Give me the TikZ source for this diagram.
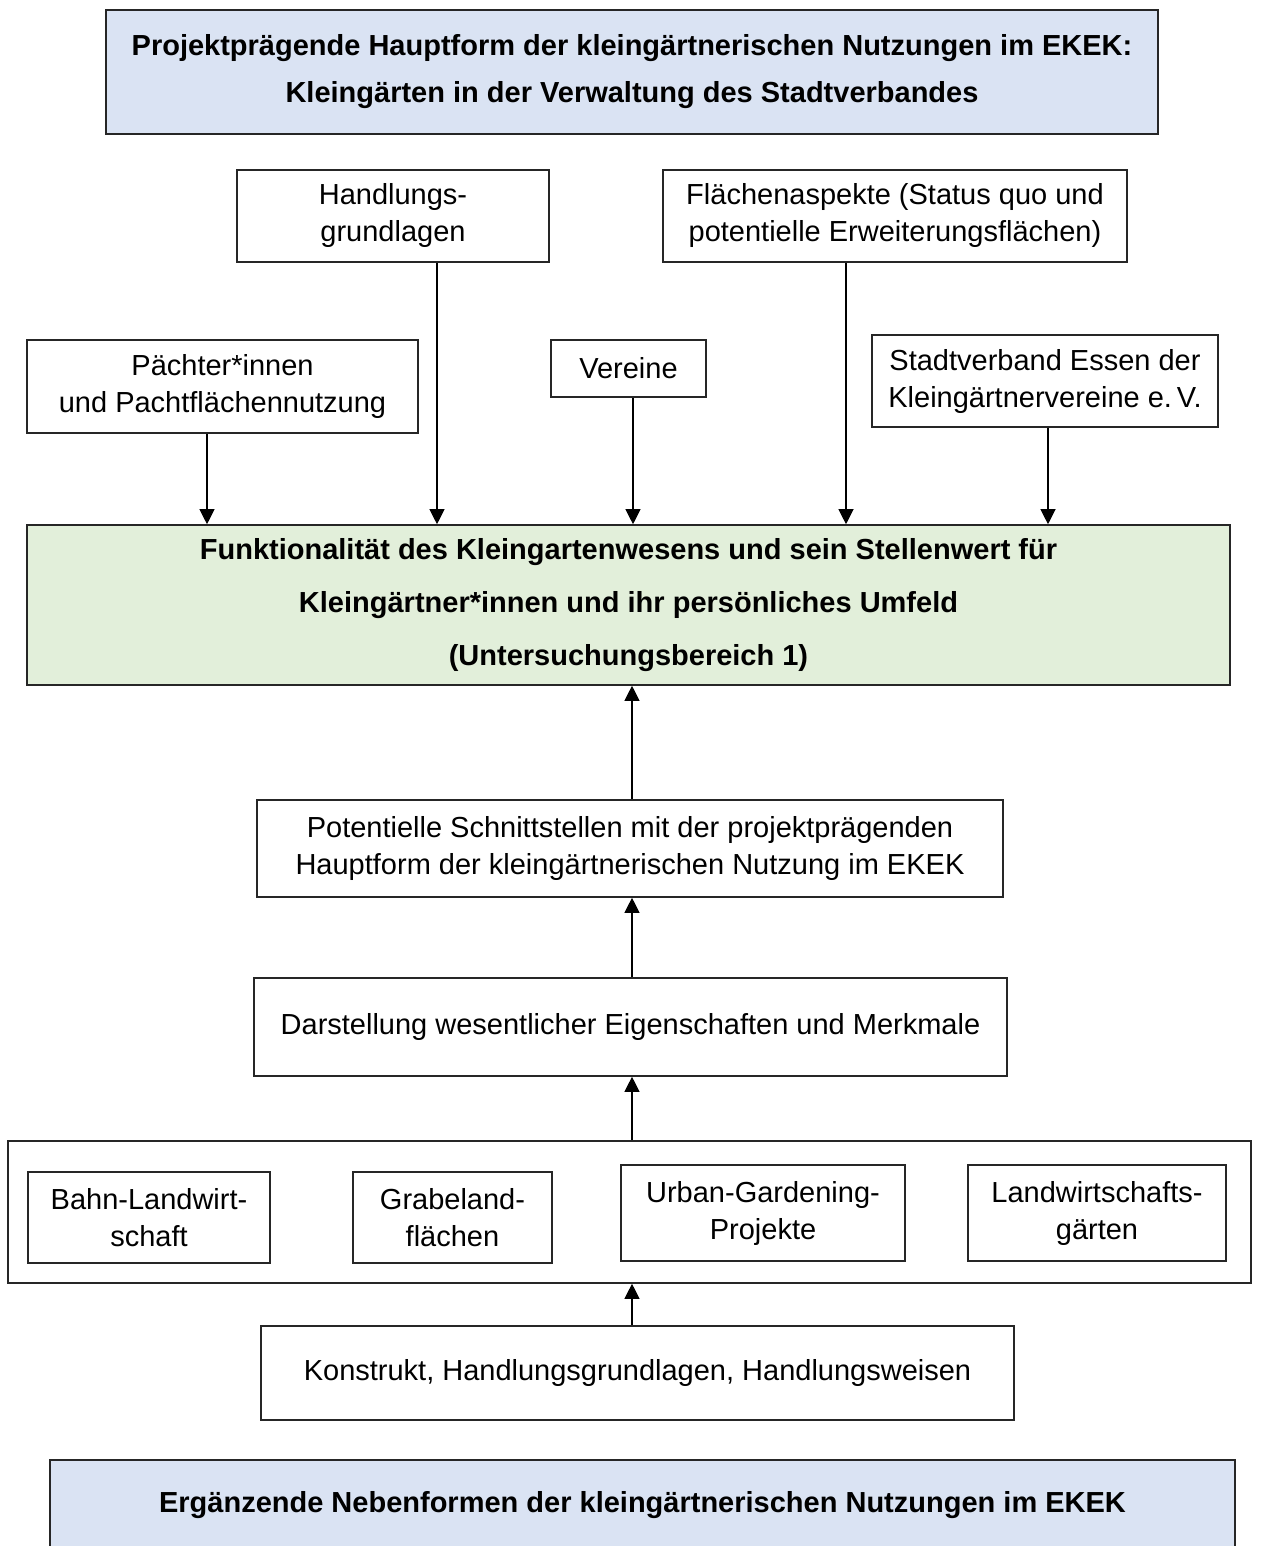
\documentclass[tikz,border=0pt]{standalone}
\usepackage{fontspec}
\setmainfont{Liberation Sans}
\usetikzlibrary{arrows.meta}
\definecolor{headblue}{RGB}{218,227,243}
\definecolor{areagreen}{RGB}{226,239,218}

\begin{document}
\begin{tikzpicture}[x=1pt,y=-1pt,
    box/.style={draw=black!85,line width=1.6pt,inner sep=0pt,align=center,
      font=\fontsize{29}{37}\selectfont},
    size/.style 2 args={minimum width=#1,minimum height=#2},
    headbox/.style={box,fill=headblue,font=\fontsize{29}{47}\selectfont\bfseries},
    arr/.style={line width=1.1pt,-{Triangle[width=15pt,length=15pt]}}]
  \useasboundingbox (0,0) rectangle (1274,1546);

  % main form on top
  \node[headbox,size={1052}{124}] (top) at (632,72)
    {Projektprägende Hauptform der kleingärtnerischen Nutzungen im EKEK:\\
     Kleingärten in der Verwaltung des Stadtverbandes};

  % inputs
  \node[box,size={312}{92}] (handl) at (393,216) {Handlungs-\\grundlagen};
  \node[box,size={464}{92}] (flaech) at (895,216)
    {Flächenaspekte (Status quo und\\potentielle Erweiterungsflächen)};
  \node[box,size={391}{93}] (paechter) at (222.5,386.5)
    {Pächter*innen\\und Pachtflächennutzung};
  \node[box,size={155}{57}] (vereine) at (628.5,368.5) {Vereine};
  \node[box,size={346}{92}] (stadt) at (1045,381)
    {Stadtverband Essen der\\Kleingärtnervereine e.\,V.};

  % research area
  \node[box,size={1203}{160},fill=areagreen,
        font=\fontsize{29}{53}\selectfont\bfseries] (green) at (628.5,605)
    {Funktionalität des Kleingartenwesens und sein Stellenwert für\\
     Kleingärtner*innen und ihr persönliches Umfeld\\
     (Untersuchungsbereich 1)};

  \node[box,size={746}{97}] (schnitt) at (630,848.5)
    {Potentielle Schnittstellen mit der projektprägenden\\
     Hauptform der kleingärtnerischen Nutzung im EKEK};
  \node[box,size={753}{98}] (darst) at (630.5,1027)
    {Darstellung wesentlicher Eigenschaften und Merkmale};

  % secondary forms
  \node[box,size={1243}{142}] (outer) at (629.5,1212) {};
  \node[box,size={242}{91}] (bahn) at (149,1217.5) {Bahn-Landwirt-\\schaft};
  \node[box,size={199}{91}] (grabe) at (452.5,1217.5) {Grabeland-\\flächen};
  \node[box,size={284}{96}] (urban) at (763,1213) {Urban-Gardening-\\Projekte};
  \node[box,size={258}{96}] (landw) at (1097,1213) {Landwirtschafts-\\gärten};

  \node[box,size={753}{94}] (konstr) at (637.5,1373)
    {Konstrukt, Handlungsgrundlagen, Handlungsweisen};

  \node[headbox,size={1185}{90}] (bottom) at (642.5,1505)
    {Ergänzende Nebenformen der kleingärtnerischen Nutzungen im EKEK};

  % connectors
  \foreach \src/\xx in {paechter/207,handl/437,vereine/633,flaech/846,stadt/1048}
    \draw[arr] (\src.south -| \xx,0) -- (\xx,0 |- green.north);
  \foreach \src/\dst in {schnitt/green,darst/schnitt,outer/darst,konstr/outer}
    \draw[arr] (\src.north -| 632,0) -- (632,0 |- \dst.south);
\end{tikzpicture}
\end{document}
